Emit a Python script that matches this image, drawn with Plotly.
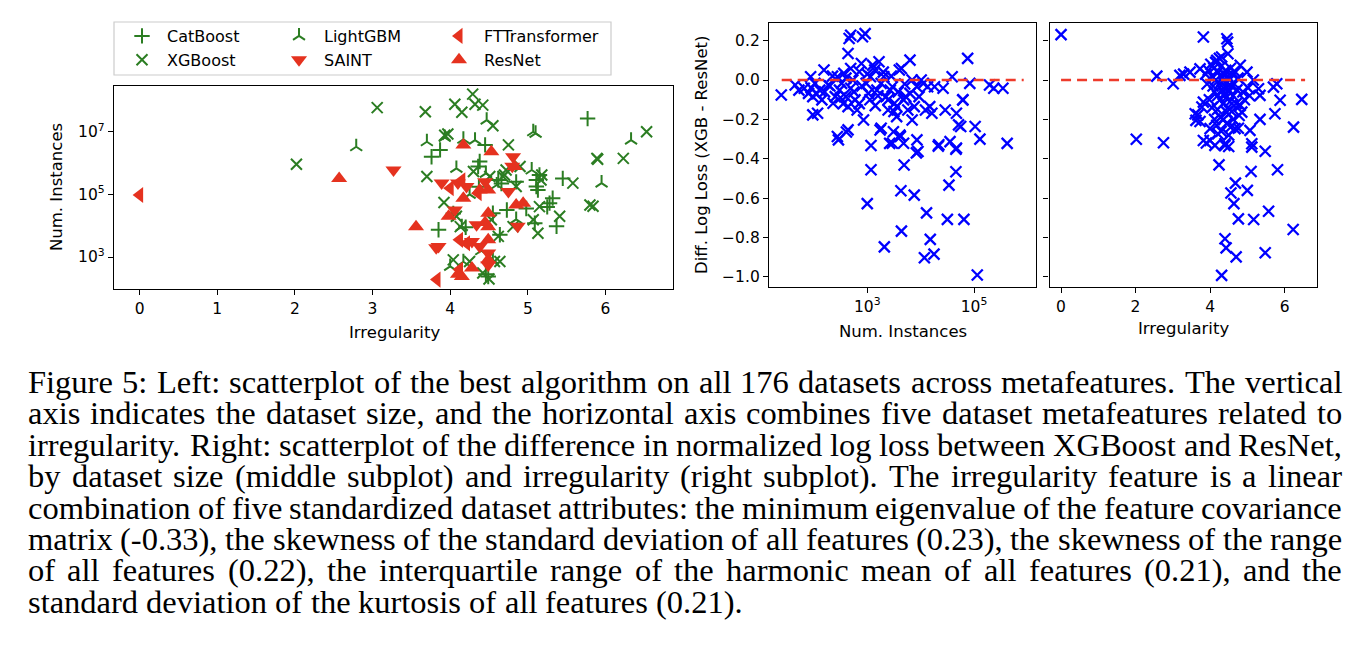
import plotly.graph_objects as go

# the page body keeps a default 8px margin, so the figure is drawn 8px smaller
OFF = 8
FW, FH = 1370 - OFF, 664 - OFF

# Left panel: best algorithm per dataset (irregularity, log10 of num. instances)
catboost_irr = [5.77, 3.76, 3.87, 4.45, 4.38, 4.36, 4.62, 5.15, 5.11, 5.11, 5.45, 5.32, 5.28, 5.37, 5.09,
                4.73, 4.55, 3.85, 4.64, 4.49, 4.46, 4.20, 4.98, 4.66, 4.04, 4.37, 4.85, 5.25, 5.13]
catboost_log_n = [7.42, 6.20, 6.42, 6.58, 6.05, 5.89, 5.46, 5.62, 5.25, 5.46, 5.51, 4.88, 4.72, 3.98, 4.08,
                  4.50, 4.40, 3.87, 3.71, 2.38, 2.45, 3.95, 4.55, 5.35, 4.39, 5.24, 5.40, 4.60, 5.14]

xgboost_irr = [2.02, 3.06, 3.68, 4.06, 4.15, 4.29, 4.32, 4.42, 4.55, 3.93, 3.97, 4.75, 3.70, 3.92, 4.13,
               4.30, 4.51, 4.68, 4.72, 4.85, 4.90, 5.18, 5.17, 5.07, 4.62, 4.04, 4.25, 4.57, 4.42, 4.81,
               5.13, 4.08, 4.53, 6.53, 5.89, 5.90, 6.23, 5.58, 5.80, 5.84, 5.41, 5.15, 4.70, 4.64, 4.50]
xgboost_log_n = [5.96, 7.77, 7.64, 7.88, 7.62, 8.20, 7.88, 7.85, 7.19, 6.89, 6.93, 6.58, 5.57, 4.74, 3.97,
                 5.73, 5.57, 5.57, 5.78, 5.25, 5.89, 5.62, 5.46, 4.19, 3.66, 2.91, 2.86, 2.86, 2.49, 3.97,
                 3.76, 4.30, 4.19, 7.00, 6.15, 6.12, 6.15, 5.36, 4.66, 4.62, 4.30, 4.61, 5.62, 2.86, 2.30]

lightgbm_irr = [2.79, 3.70, 3.93, 4.17, 4.32, 4.47, 5.07, 5.10, 6.33, 4.08, 4.46, 5.05, 5.95, 4.15, 4.00,
                4.17, 4.25, 4.60, 4.40, 4.55, 4.85]
lightgbm_log_n = [6.52, 6.68, 6.82, 6.76, 6.73, 7.37, 7.00, 6.95, 6.73, 5.83, 5.67, 5.78, 5.36, 3.97, 2.70,
                  2.85, 5.00, 5.30, 3.20, 2.90, 4.20]

saint_irr = [3.27, 4.81, 3.89, 4.10, 4.21, 4.75, 4.06, 4.34, 4.87, 3.85, 3.82, 4.28, 4.38, 4.49, 4.49,
             4.80, 4.45]
saint_log_n = [5.78, 6.20, 5.36, 5.36, 5.25, 5.09, 4.50, 4.03, 3.98, 3.34, 3.30, 3.50, 3.34, 3.13, 2.75,
               5.90, 5.40]

resnet_irr = [2.57, 3.56, 4.17, 4.53, 4.83, 4.17, 4.38, 4.49, 4.85, 4.94, 3.98, 4.49, 4.49, 4.49, 4.49,
              4.15, 4.28, 4.10, 4.45]
resnet_log_n = [5.51, 3.97, 6.58, 6.36, 5.89, 4.88, 5.14, 5.14, 4.66, 4.72, 4.30, 4.40, 3.97, 3.55, 2.91,
                2.38, 2.65, 2.45, 4.10]

ftt_irr = [0.00, 3.83, 4.00, 4.36, 4.12, 4.21, 4.12, 4.15]
ftt_log_n = [4.98, 2.28, 5.20, 5.04, 3.55, 3.44, 2.60, 5.45]

# Middle panel: diff. log loss vs log10 of num. instances
mid_log_n = [1.39, 1.65, 1.72, 1.82, 1.90, 1.98, 1.94, 2.02, 2.11, 1.98, 2.07, 2.15, 2.19, 2.27, 2.36,
             2.40, 2.44, 2.48, 2.52, 2.56, 2.60, 2.64, 2.69, 2.69, 2.73, 2.77, 2.81, 2.85, 2.89, 2.91,
             2.66, 2.69, 2.64, 2.96, 2.98, 2.93, 3.02, 3.06, 3.10, 3.14, 3.18, 3.22, 3.26, 3.31, 3.35,
             3.39, 3.43, 3.47, 3.51, 3.55, 3.60, 3.64, 3.68, 3.72, 3.76, 3.80, 3.84, 3.88, 3.93, 3.97,
             4.01, 4.05, 4.13, 4.17, 4.26, 4.42, 4.46, 4.59, 4.67, 4.79, 4.88, 4.92, 5.29, 5.37, 5.54,
             2.44, 2.46, 2.64, 3.07, 3.07, 3.00, 3.26, 3.32, 3.47, 3.62, 3.69, 3.68, 3.64, 3.84, 3.93,
             3.95, 3.88, 4.11, 4.07, 4.18, 4.25, 4.34, 4.53, 4.50, 4.55, 4.67, 4.66, 4.71, 4.75, 4.81,
             5.02, 5.11, 5.06, 5.62, 3.39, 3.55, 3.80, 4.09, 4.21, 3.63, 3.49, 3.61, 3.42, 3.92, 3.24,
             2.61, 4.33, 4.66, 4.79, 2.20, 2.30, 2.50, 2.60, 2.75, 2.90, 3.00, 3.05, 3.20, 3.30, 3.45,
             3.58, 3.70, 2.35, 2.85, 3.15, 3.50, 2.55, 1.95, 2.05]
mid_diff = [-0.076, -0.025, -0.051, -0.042, -0.068, -0.084, 0.017, -0.017, -0.051, -0.177, -0.169, -0.101,
            0.051, -0.025, -0.118, -0.084, 0.017, -0.051, -0.017, 0.034, -0.084, -0.135, -0.042, 0.059,
            0.000, -0.101, -0.152, 0.042, 0.084, 0.220, 0.211, 0.228, 0.135, 0.236, -0.017, -0.203,
            -0.068, 0.017, 0.076, 0.051, -0.051, 0.093, -0.017, 0.017, -0.084, -0.101, -0.051, -0.034,
            -0.118, -0.135, 0.051, 0.059, -0.101, -0.084, -0.152, 0.101, 0.000, -0.135, -0.034, -0.084,
            0.000, -0.017, -0.034, -0.135, -0.034, -0.042, -0.152, 0.017, -0.169, -0.101, 0.110, -0.017,
            -0.025, -0.042, -0.042,
            -0.287, -0.304, -0.253, -0.333, -0.456, -0.628, -0.245, -0.848, -0.321, -0.287, -0.432, -0.321,
            -0.768, -0.203, -0.304, -0.363, -0.585, -0.675, -0.903, -0.810, -0.885, -0.329, -0.534, -0.708,
            -0.313, -0.346, -0.466, -0.228, -0.236, -0.708, -0.236, -0.300, -0.991, -0.322, -0.152, -0.186,
            -0.068, -0.152, -0.169, -0.563, -0.263, -0.280, -0.322, -0.370, -0.254, -0.264, -0.336, -0.352,
            -0.101, -0.060, -0.030, -0.090, 0.010, -0.060, -0.030, 0.030, -0.100, -0.080, 0.040, 0.020,
            -0.060, -0.020, 0.020, -0.120, -0.130, -0.160, -0.120, -0.040, -0.070]

# Right panel: diff. log loss vs irregularity
right_irr = [0.00, 2.02, 2.75, 2.57, 3.01, 3.19, 3.46, 3.29, 3.67, 3.73, 3.60, 3.62, 3.73, 3.82, 4.45,
             4.47, 4.48, 4.31, 3.78, 3.82, 3.82, 3.90, 4.00, 4.18, 4.21, 4.00, 4.13, 4.40, 4.40, 4.24,
             4.50, 4.67, 4.81, 4.85, 4.45, 4.81, 4.99, 5.16, 5.30, 5.34, 5.70, 5.79, 5.88, 6.46, 5.74,
             5.34, 6.24, 5.07, 5.12, 5.12, 5.48, 4.76,
             4.31, 4.40, 4.43, 4.70, 4.76, 4.68, 4.56, 4.64, 5.00, 5.10, 5.17, 5.48, 5.57, 5.81, 6.23,
             3.95, 4.02, 4.05, 4.08, 4.10, 4.12, 4.15, 4.18, 4.20, 4.22, 4.25, 4.27, 4.30, 4.32, 4.33,
             4.35, 4.37, 4.38, 4.40, 4.42, 4.43, 4.45, 4.47, 4.48, 4.50, 4.52, 4.53, 4.55, 4.57, 4.58,
             4.60, 4.62, 4.65, 4.68, 4.70, 4.72, 4.75, 4.78, 4.20, 4.28, 4.36, 4.45, 4.55, 4.12, 4.05,
             3.98, 3.92, 4.62, 4.30, 4.50, 4.88, 4.92, 5.02, 5.06, 3.88, 4.25, 4.15]
right_diff = [0.231, -0.301, -0.319, 0.020, -0.019, 0.024, 0.040, 0.030, -0.177, -0.211, -0.171, -0.205,
              0.057, 0.219, 0.210, 0.193, 0.134, 0.117, -0.137, -0.112, -0.307, -0.320, -0.247, -0.230,
              -0.273, -0.307, -0.332, -0.332, -0.324, -0.431, -0.338, -0.247, -0.129, -0.163, -0.163,
              0.075, 0.040, 0.000, -0.044, -0.078, -0.036, -0.019, -0.103, -0.098, -0.171, -0.200, -0.239,
              -0.256, -0.324, -0.341, -0.362, -0.245,
              -0.993, -0.807, -0.853, -0.899, -0.706, -0.524, -0.574, -0.628, -0.561, -0.465, -0.709,
              -0.878, -0.667, -0.456, -0.760,
              0.05, 0.08, 0.02, -0.03, 0.06, -0.06, 0.00, 0.10, -0.08, 0.04, -0.02, -0.10, 0.07, -0.05,
              0.01, -0.12, 0.03, -0.07, -0.01, 0.05, -0.09, -0.04, 0.02, -0.14, -0.06, 0.00, -0.11, 0.06,
              -0.03, -0.16, 0.03, -0.08, -0.02, 0.04, -0.12, -0.05, 0.01, -0.18, -0.15, -0.19, -0.20,
              -0.22, -0.24, -0.20, -0.14, -0.10, -0.02, -0.20, -0.26, -0.28, -0.06, -0.10, -0.04, -0.08,
              0.03, 0.11, 0.09]

# red dashed zero lines
zero_n = [25, 8.5e5]
zero_irr = [0.0, 6.55]

caption_lines = [
    "Figure 5: Left: scatterplot of the best algorithm on all 176 datasets across metafeatures. The vertical",
    "axis indicates the dataset size, and the horizontal axis combines five dataset metafeatures related to",
    "irregularity. Right: scatterplot of the difference in normalized log loss between XGBoost and ResNet,",
    "by dataset size (middle subplot) and irregularity (right subplot). The irregularity feature is a linear",
    "combination of five standardized dataset attributes: the minimum eigenvalue of the feature covariance",
    "matrix (-0.33), the skewness of the standard deviation of all features (0.23), the skewness of the range",
    "of all features (0.22), the interquartile range of the harmonic mean of all features (0.21), and the",
    "standard deviation of the kurtosis of all features (0.21).",
]

green = "#2b7d22"
red = "#e5321f"
blue = "#0000ff"
tick_font = dict(family="DejaVu Sans", size=15.5, color="black")
label_font = dict(family="DejaVu Sans", size=16.5, color="black")
legend_font = dict(family="DejaVu Sans", size=16, color="black")


# positions below are in pixels of the 1370x664 page
def px(x):
    return (x - OFF) / FW


def py(y):
    return 1 - (y - OFF) / FH


fig = go.Figure()


def add_algo(name, irr, log_n, symbol, color, size, legend, thin):
    marker = dict(symbol=symbol, size=size, color=color)
    if thin:
        marker["line"] = dict(width=2, color=color)
    else:
        marker["line"] = dict(width=0)
    fig.add_trace(go.Scatter(x=irr, y=[10 ** v for v in log_n], mode="markers", name=name,
                             marker=marker, legend=legend, xaxis="x", yaxis="y"))


add_algo("CatBoost", catboost_irr, catboost_log_n, "cross-thin", green, 11, "legend", True)
add_algo("XGBoost", xgboost_irr, xgboost_log_n, "x-thin", green, 11, "legend", True)
add_algo("LightGBM", lightgbm_irr, lightgbm_log_n, "y-up", green, 10, "legend2", True)
add_algo("SAINT", saint_irr, saint_log_n, "triangle-down", red, 14, "legend2", False)
add_algo("FTTransformer", ftt_irr, ftt_log_n, "triangle-left", red, 14, "legend3", False)
add_algo("ResNet", resnet_irr, resnet_log_n, "triangle-up", red, 14, "legend3", False)

x_marker = dict(symbol="x-thin", size=11, color=blue, line=dict(width=2.3, color=blue))
fig.add_trace(go.Scatter(x=[10 ** v for v in mid_log_n], y=mid_diff, mode="markers", marker=x_marker,
                         showlegend=False, xaxis="x2", yaxis="y2"))
fig.add_trace(go.Scatter(x=zero_n, y=[0, 0], mode="lines", showlegend=False,
                         line=dict(color="#ee3b2b", width=2.5, dash="10px,6px"), xaxis="x2", yaxis="y2"))
fig.add_trace(go.Scatter(x=right_irr, y=right_diff, mode="markers", marker=x_marker,
                         showlegend=False, xaxis="x3", yaxis="y3"))
fig.add_trace(go.Scatter(x=zero_irr, y=[0, 0], mode="lines", showlegend=False,
                         line=dict(color="#ee3b2b", width=2.5, dash="10px,6px"), xaxis="x3", yaxis="y3"))

axis_style = dict(showline=True, mirror=True, linecolor="black", linewidth=1.3, ticks="outside",
                  ticklen=5, tickwidth=1.1, tickcolor="black", showgrid=False, zeroline=False,
                  tickfont=tick_font)

diff_ticks = [-1.0, -0.8, -0.6, -0.4, -0.2, 0.0, 0.2]

fig.update_layout(
    width=FW, height=FH, margin=dict(l=0, r=0, t=0, b=0),
    paper_bgcolor="white", plot_bgcolor="white",
    xaxis=dict(axis_style, domain=[px(114), px(673)], range=[-0.33, 6.87], anchor="y",
               tickvals=[0, 1, 2, 3, 4, 5, 6]),
    yaxis=dict(axis_style, domain=[py(289), py(86)], type="log", range=[1.98, 8.46], anchor="x",
               tickvals=[1e3, 1e5, 1e7], ticktext=["10<sup>3</sup>", "10<sup>5</sup>", "10<sup>7</sup>"]),
    xaxis2=dict(axis_style, domain=[px(769), px(1036)], type="log", range=[1.16, 6.16], anchor="y2",
                tickvals=[1e3, 1e5], ticktext=["10<sup>3</sup>", "10<sup>5</sup>"]),
    yaxis2=dict(axis_style, domain=[py(287), py(23)], range=[-1.052, 0.29], anchor="x2",
                tickvals=diff_ticks, tickformat=".1f"),
    xaxis3=dict(axis_style, domain=[px(1049.5), px(1317)], range=[-0.31, 6.87], anchor="y3",
                tickvals=[0, 2, 4, 6]),
    yaxis3=dict(axis_style, domain=[py(287), py(23)], range=[-1.052, 0.29], anchor="x3",
                tickvals=diff_ticks, showticklabels=False),
    legend=dict(x=px(117), y=py(19), xanchor="left", yanchor="top", bgcolor="rgba(0,0,0,0)",
                font=legend_font, itemwidth=40),
    legend2=dict(x=px(274), y=py(19), xanchor="left", yanchor="top", bgcolor="rgba(0,0,0,0)",
                 font=legend_font, itemwidth=40),
    legend3=dict(x=px(434), y=py(19), xanchor="left", yanchor="top", bgcolor="rgba(0,0,0,0)",
                 font=legend_font, itemwidth=40),
)

# legend frame
fig.add_shape(type="rect", xref="paper", yref="paper", x0=px(114), x1=px(611), y0=py(75), y1=py(22),
              line=dict(color="#cccccc", width=1.2))

# axis titles
titles = [
    ("Num. Instances", 56, 187, -90),
    ("Irregularity", 394, 332, 0),
    ("Diff. Log Loss (XGB - ResNet)", 701, 155, -90),
    ("Num. Instances", 903, 331, 0),
    ("Irregularity", 1183, 328, 0),
]
for text, x, y, angle in titles:
    fig.add_annotation(text=text, x=px(x), y=py(y), xref="paper", yref="paper", showarrow=False,
                       textangle=angle, font=label_font, xanchor="center", yanchor="middle")

# caption, fully justified word by word using Times metrics
times_w = dict(zip("abcdefghijklmnopqrstuvwxyz",
                   [444, 500, 444, 500, 444, 333, 500, 500, 278, 278, 500, 278, 778,
                    500, 500, 500, 500, 333, 389, 278, 500, 500, 722, 500, 500, 444]))
times_w.update(zip("ABCDEFGHIJKLMNOPQRSTUVWXYZ",
                   [722, 667, 667, 722, 611, 556, 722, 722, 333, 389, 722, 611, 889,
                    722, 722, 556, 722, 667, 556, 611, 722, 722, 944, 722, 722, 611]))
times_w.update({c: 500 for c in "0123456789"})
times_w.update({".": 250, ",": 250, ":": 278, "-": 333, "(": 333, ")": 333})

cap_size = 32.5
cap_left, cap_right = 28, 1342
cap_font = dict(family="Liberation Serif", size=cap_size, color="black")


def word_width(word):
    return sum(times_w.get(c, 500) for c in word) * cap_size / 1000


for i, line in enumerate(caption_lines):
    words = line.split(" ")
    widths = [word_width(w) for w in words]
    if i < len(caption_lines) - 1:
        gap = (cap_right - cap_left - sum(widths)) / (len(words) - 1)
    else:
        gap = 0.25 * cap_size
    baseline = 393 + 31.4 * i
    x = cap_left
    for w, wd in zip(words, widths):
        fig.add_annotation(text=w, x=px(x), y=py(baseline - 11), xref="paper", yref="paper",
                           showarrow=False, font=cap_font, xanchor="left", yanchor="middle",
                           xshift=-2)
        x += wd + gap

fig.write_html("out.html")
